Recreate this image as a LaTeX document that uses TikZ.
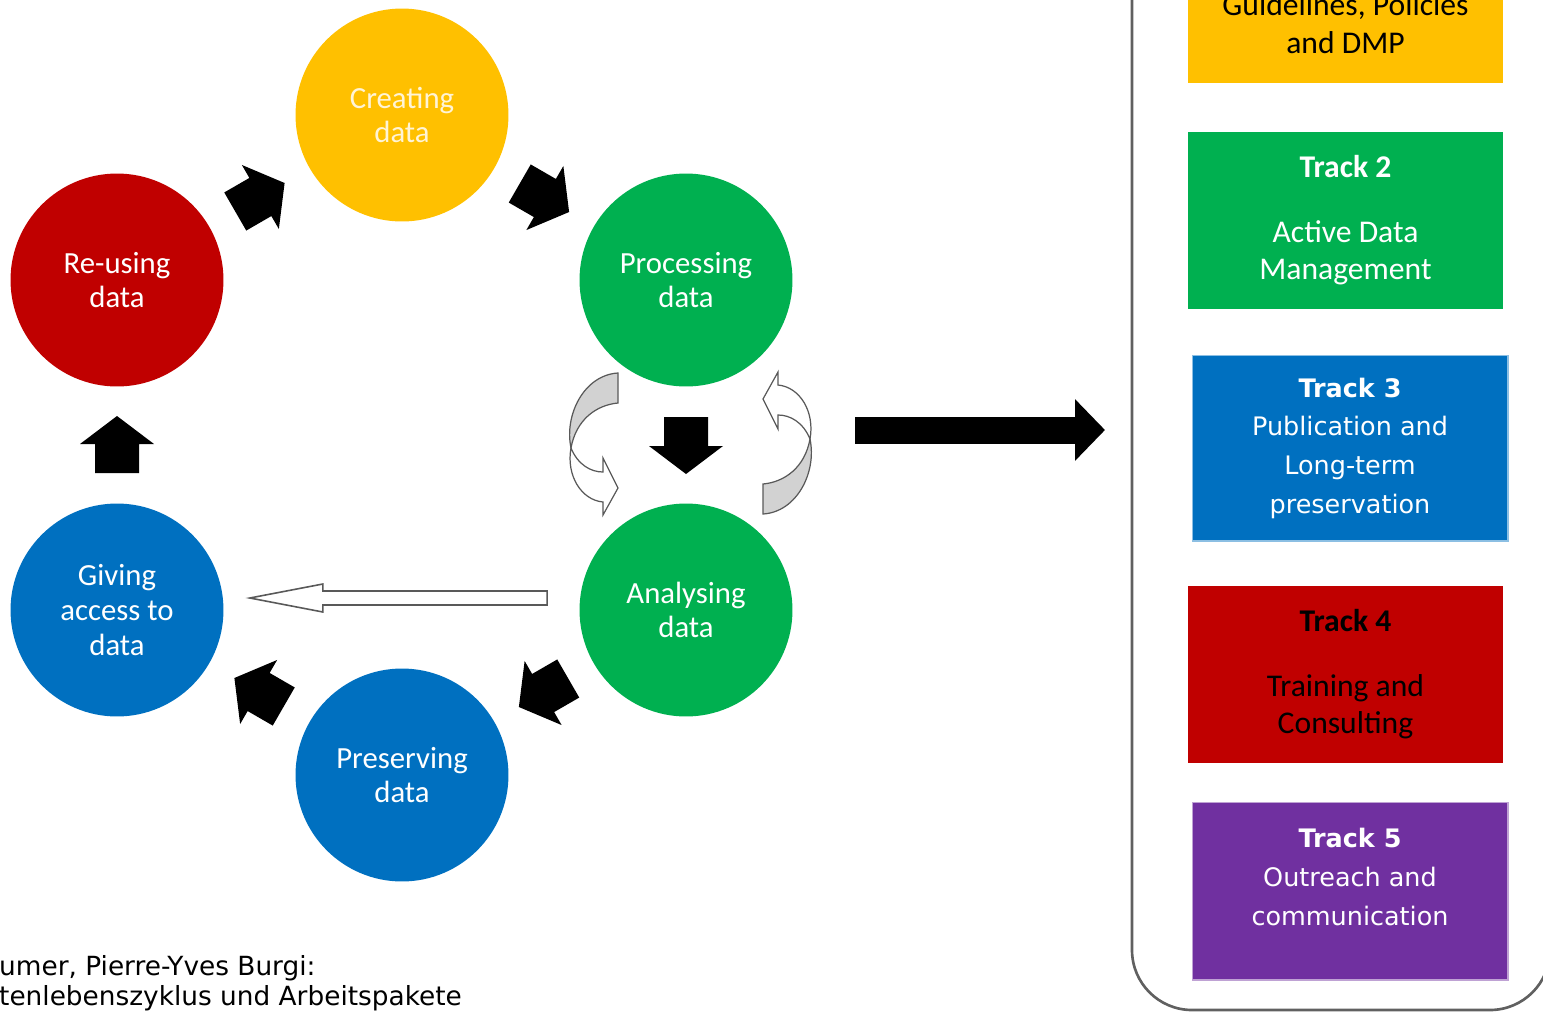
\documentclass[tikz,border=0pt]{standalone}
\usepackage{fontspec}
\setmainfont{Carlito}
\newfontfamily\dejavu{DejaVu Sans}
\usepackage{xcolor}
\usetikzlibrary{arrows.meta, positioning, calc}

\definecolor{lcyellow}{HTML}{FFC000}
\definecolor{lcred}{HTML}{C00000}
\definecolor{lcgreen}{HTML}{00B050}
\definecolor{lcblue}{HTML}{0070C0}
\definecolor{lcpurple}{HTML}{7030A0}
\definecolor{lccream}{HTML}{FFF4D6}

\tikzset{
    pics/blockarr/.style={code={
        \fill[black] (-28,-22) -- (1,-22) -- (1,-37) -- (29,0) -- (1,37) -- (1,22) -- (-28,22) -- cycle;
    }},
    pics/twistarr/.style={code={
        \filldraw[twistgray] (-68,-72) -- (-68,-42) .. controls (-90,-40) and (-110,-25) .. (-115,3)
            .. controls (-122,-30) and (-102,-70) .. cycle;
        \filldraw[twistwhite] (-115,3) .. controls (-108,20) and (-95,27) .. (-83,27) -- (-83,13) -- (-68,43)
            -- (-83,70) -- (-83,57) .. controls (-105,55) and (-120,30) .. cycle;
    }}
}

\begin{document}
\begin{tikzpicture}[
        x=0.02cm, y=-0.02cm,
        % Styles
        stage/.style={
            circle, minimum size=4.26cm, inner sep=0pt,
            align=center, text=white,
            font=\fontsize{17.5}{19.8}\selectfont
        },
        trackbox/.style={
            rectangle, minimum width=6.3cm, minimum height=3.54cm, inner sep=0pt,
            align=center, font=\fontsize{18}{21.5}\selectfont
        },
        trackpix/.style={
            trackbox, minimum width=6.32cm, draw=white!55!lcblue, line width=0.6pt,
            text=white, font=\dejavu\fontsize{14.5}{22}\selectfont
        },
        bigline/.style={
            line width=0.54cm, -{Triangle[length=0.6cm, width=1.2cm]}
        },
        hollow/.style={draw=gray!70!black, line width=0.9pt, fill=white},
        twistgray/.style={draw=gray!70!black, line width=0.7pt, fill=gray!35},
        twistwhite/.style={draw=gray!70!black, line width=0.7pt, fill=white},
        panelframe/.style={draw=gray!75!black, line width=1.5pt, rounded corners=1.2cm}
    ]

        \useasboundingbox (0,0) rectangle (1543,1012);
        \clip (0,0) rectangle (1543,1012);

        % Life cycle
        \node[stage, fill=lcyellow, text=lccream] (cyc_create) at (402,115) {Creating\\data};
        \node[stage, fill=lcgreen] (cyc_process) at (686,280) {Processing\\data};
        \node[stage, fill=lcgreen] (cyc_analyse) at (686,610) {Analysing\\data};
        \node[stage, fill=lcblue] (cyc_preserve) at (402,775) {Preserving\\data};
        \node[stage, fill=lcblue] (cyc_access) at (117,610) {Giving\\access to\\data};
        \node[stage, fill=lcred] (cyc_reuse) at (117,280) {Re-using\\data};

        % Block arrows between stages
        \pic[rotate=30] at ($(cyc_reuse)!0.5!(cyc_create)$) {blockarr};
        \pic[rotate=-30] at ($(cyc_create)!0.5!(cyc_process)$) {blockarr};
        \pic[rotate=-90] at ($(cyc_process)!0.5!(cyc_analyse)$) {blockarr};
        \pic[rotate=210] at ($(cyc_analyse)!0.5!(cyc_preserve)$) {blockarr};
        \pic[rotate=150] at ($(cyc_preserve)!0.5!(cyc_access)$) {blockarr};
        \pic[rotate=90] at ($(cyc_access)!0.5!(cyc_reuse)$) {blockarr};

        % Loop between processing and analysing
        \pic at ($(cyc_process)!0.5!(cyc_analyse)$) {twistarr};
        \pic[rotate=180] at ($($(cyc_process)!0.5!(cyc_analyse)$)+(9,-3)$) {twistarr};

        % Shortcut analysing -> access
        \coordinate (hollow_tail) at ($(cyc_analyse.west)+(-32,-12)$);
        \coordinate (hollow_tip) at ($(cyc_access.east)+(26,-12)$);
        \draw[hollow] (hollow_tip) -- ++(73,-14) -- ++(0,7) -- ($(hollow_tail)+(0,-7)$) -- ++(0,14)
            -- ($(hollow_tip)+(73,7)$) -- ++(0,7) -- cycle;

        % Big arrow to tracks
        \coordinate (big_from) at (855,430);
        \coordinate (big_to) at (1105,430);
        \draw[bigline] (big_from) -- (big_to);

        % Track panel
        \draw[panelframe] (1132,-80) rectangle (1550,1010);

        \node[trackbox, fill=lcyellow] (track_1) at (1345.5,-5.5) {};
        \node[align=center, font=\fontsize{18}{21.5}\selectfont] (track_1_text) at ($(track_1.south)+(0,-60)$) {Guidelines, Policies\\and DMP};

        \node[trackbox, fill=lcgreen, text=white] (track_2) at (1345.5,220.5) {\textbf{Track 2}\\[15pt]Active Data\\Management};

        \node[trackpix, fill=lcblue, minimum height=3.72cm] (track_3) at (1350,448) {\textbf{Track 3}\\Publication and\\Long-term\\preservation};

        \node[trackbox, fill=lcred, text=black] (track_4) at (1345.5,674.5) {\textbf{Track 4}\\[15pt]Training and\\Consulting};

        \node[trackpix, fill=lcpurple, draw=white!55!lcpurple, minimum height=3.56cm] (track_5) at (1350,891) {};
        \node[align=center, text=white, font=\dejavu\fontsize{14.5}{22}\selectfont] (track_5_text) at ($(track_5.center)+(0,-14)$) {\textbf{Track 5}\\Outreach and\\communication};

        % Source
        \node[anchor=west, align=left, font=\dejavu\fontsize{15}{17}\selectfont] (source_note) at (-7,983) {umer, Pierre-Yves Burgi:\\tenlebenszyklus und Arbeitspakete};

    \end{tikzpicture}
\end{document}
